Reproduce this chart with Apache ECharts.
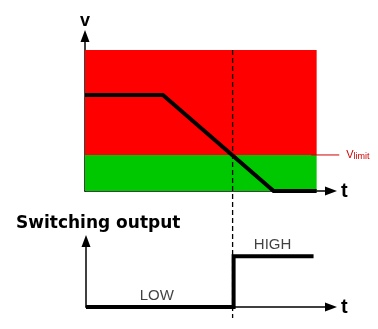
<!DOCTYPE html>
<html>
<head>
<meta charset="utf-8">
<script src="https://cdn.jsdelivr.net/npm/echarts@6/dist/echarts.min.js"></script>
<style>
  html, body { margin: 0; padding: 0; background: #fff; }
  #chart { width: 378px; height: 329px; }
</style>
</head>
<body>
<div id="chart"></div>
<script>
// signal voltage over time (upper plot)
const signalT = [0, 3.8, 9.2, 11.3]
const signalV = [4.95, 4.95, 0, 0]
// coloured zones
const zoneEnd = 11.3
const redTop = 7.28
const vLimit = 1.86
const limitLineEnd = 12.7
// switching output (lower plot)
const switchT = [0, 7.2, 7.2, 11.1]
const switchV = [0, 0, 1, 1]
const stateLabels = ['LOW', 'HIGH']
const stateLabelT = [3.45, 9.1]
const stateLabelV = [0, 1]
const tS = 7.2

const font = 'Liberation Sans, Arial, sans-serif'

function axisLine (withArrow) {
  return {
    show: true,
    onZero: false,
    symbol: ['none', withArrow ? 'triangle' : 'none'],
    symbolSize: [9, 12],
    lineStyle: { color: '#000', width: 1.5 }
  }
}

const chart = echarts.init(document.getElementById('chart'))

const option = {
  animation: false,
  backgroundColor: '#fff',
  title: {
    text: 'Switching output',
    left: 11,
    top: 210,
    textStyle: { fontFamily: 'DejaVu Sans', fontWeight: 'bold', fontSize: 17, color: '#000' }
  },
  grid: [
    { left: 85, top: 36, width: 246, height: 155 },
    { left: 86, top: 241, width: 245, height: 66 },
    { left: 85, top: 50, width: 246, height: 268 },
    // same scale as the upper plot, wider, for the limit marker
    { left: 85, top: 36, width: 300, height: 155 }
  ],
  xAxis: [
    {
      gridIndex: 0, type: 'value', min: 0, max: 12,
      name: 't', nameLocation: 'end', nameGap: 10,
      nameTextStyle: { fontFamily: font, fontWeight: 'bold', fontSize: 20, color: '#000', verticalAlign: 'middle' },
      axisLine: axisLine(true), axisTick: { show: false }, axisLabel: { show: false }, splitLine: { show: false }
    },
    {
      gridIndex: 1, type: 'value', min: 0, max: 12 - 1 / 20.5,
      name: 't', nameLocation: 'end', nameGap: 10,
      nameTextStyle: { fontFamily: font, fontWeight: 'bold', fontSize: 20, color: '#000', verticalAlign: 'middle' },
      axisLine: axisLine(true), axisTick: { show: false }, axisLabel: { show: false }, splitLine: { show: false }
    },
    { gridIndex: 2, type: 'value', min: 0, max: 12, show: false },
    { gridIndex: 3, type: 'value', min: 0, max: 12 * 300 / 246, show: false }
  ],
  yAxis: [
    {
      gridIndex: 0, type: 'value', min: 0, max: 8,
      name: 'v', nameLocation: 'end', nameGap: 6,
      nameTextStyle: { fontFamily: font, fontWeight: 'bold', fontSize: 18, color: '#000' },
      axisLine: axisLine(true), axisTick: { show: false }, axisLabel: { show: false }, splitLine: { show: false }
    },
    {
      gridIndex: 1, type: 'value', min: 0, max: 1.3,
      axisLine: axisLine(true), axisTick: { show: false }, axisLabel: { show: false }, splitLine: { show: false }
    },
    { gridIndex: 2, type: 'value', min: 0, max: 1, show: false },
    { gridIndex: 3, type: 'value', min: 0, max: 8, show: false }
  ],
  series: [
    {
      name: 'zones',
      type: 'line',
      xAxisIndex: 0,
      yAxisIndex: 0,
      data: [],
      markArea: {
        silent: true,
        data: [
          [{ xAxis: 0, yAxis: vLimit, itemStyle: { color: '#ff0000' } }, { xAxis: zoneEnd, yAxis: redTop }],
          [{ xAxis: 0, yAxis: 0, itemStyle: { color: '#00c800' } }, { xAxis: zoneEnd, yAxis: vLimit }]
        ]
      },
      z: 1
    },
    {
      name: 'limit',
      type: 'line',
      xAxisIndex: 3,
      yAxisIndex: 3,
      symbol: 'none',
      data: [[zoneEnd, vLimit], [limitLineEnd, vLimit]],
      lineStyle: { color: '#d00000', width: 1 },
      endLabel: {
        show: true,
        distance: 7,
        formatter: '{v|V}{s|limit}',
        rich: {
          v: { fontFamily: font, fontSize: 11, color: '#d00000' },
          s: { fontFamily: font, fontSize: 9, color: '#d00000', padding: [4, 0, 0, 0] }
        }
      },
      z: 3
    },
    {
      name: 'signal',
      type: 'line',
      xAxisIndex: 0,
      yAxisIndex: 0,
      clip: false,
      symbol: 'none',
      data: signalT.map((t, i) => [t, signalV[i]]),
      lineStyle: { color: '#000', width: 4, join: 'miter' },
      z: 4
    },
    {
      name: 'switch',
      type: 'line',
      xAxisIndex: 1,
      yAxisIndex: 1,
      clip: false,
      symbol: 'none',
      data: switchT.map((t, i) => [t, switchV[i]]),
      lineStyle: { color: '#000', width: 4, join: 'miter' },
      z: 4
    },
    {
      name: 'states',
      type: 'scatter',
      xAxisIndex: 1,
      yAxisIndex: 1,
      symbolSize: 0,
      data: stateLabels.map((s, i) => ({ value: [stateLabelT[i], stateLabelV[i]], name: s })),
      label: {
        show: true,
        position: 'top',
        distance: 4,
        formatter: p => p.name,
        fontFamily: font,
        fontSize: 15,
        color: '#111'
      },
      z: 5
    },
    {
      name: 'ts',
      type: 'line',
      xAxisIndex: 2,
      yAxisIndex: 2,
      clip: false,
      symbol: 'none',
      data: [
        [tS, 1],
        { value: [tS, 0], label: { show: true, position: 'bottom', distance: 3, formatter: '{t|t}{s|S}' } }
      ],
      label: {
        rich: {
          t: { fontFamily: font, fontSize: 14, color: '#000' },
          s: { fontFamily: font, fontSize: 9, color: '#000', padding: [5, 0, 0, 0] }
        }
      },
      lineStyle: { color: '#000', width: 1.3, type: [5, 3] },
      z: 6
    }
  ]
}

chart.setOption(option)
</script>
</body>
</html>
